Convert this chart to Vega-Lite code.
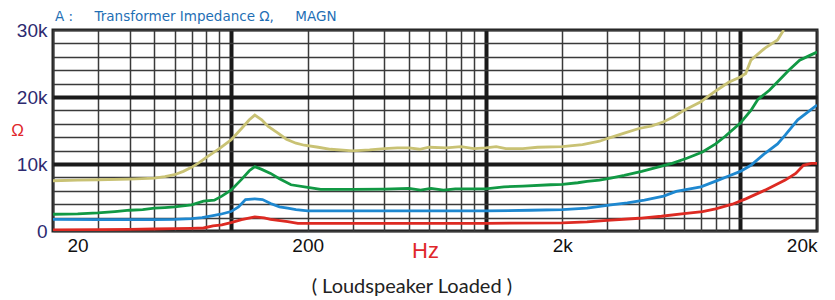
{
  "$schema": "https://vega.github.io/schema/vega-lite/v6.json",
  "width": 764,
  "height": 201,
  "autosize": "none",
  "padding": {"left": 53, "top": 30, "right": 18, "bottom": 69},
  "background": "white",
  "title": {"text": "A :\u00a0\u00a0\u00a0\u00a0 Transformer Impedance Ω,\u00a0\u00a0\u00a0\u00a0\u00a0MAGN", "anchor": "start", "frame": "group", "dx": 2, "offset": -16, "color": "#1f6fb5", "fontSize": 13.5, "font": "DejaVu Sans", "fontWeight": "normal", "baseline": "bottom"},
  "config": {"view": {"stroke": "#222222", "strokeWidth": 3}},
  "datasets": {
    "curves": [
      {"s":"yellow","f":20,"z":7500},{"s":"yellow","f":25,"z":7600},{"s":"yellow","f":30,"z":7650},{"s":"yellow","f":40,"z":7750},{"s":"yellow","f":50,"z":7900},{"s":"yellow","f":55,"z":8100},{"s":"yellow","f":60,"z":8400},{"s":"yellow","f":65,"z":8900},{"s":"yellow","f":70,"z":9500},{"s":"yellow","f":75,"z":10200},{"s":"yellow","f":80,"z":11000},{"s":"yellow","f":90,"z":12300},{"s":"yellow","f":100,"z":13600},{"s":"yellow","f":110,"z":15300},{"s":"yellow","f":118,"z":16600},{"s":"yellow","f":124,"z":17300},{"s":"yellow","f":132,"z":16600},{"s":"yellow","f":140,"z":15600},{"s":"yellow","f":153,"z":14600},{"s":"yellow","f":165,"z":13700},{"s":"yellow","f":180,"z":13100},{"s":"yellow","f":194,"z":12800},{"s":"yellow","f":220,"z":12500},{"s":"yellow","f":246,"z":12200},{"s":"yellow","f":300,"z":11950},{"s":"yellow","f":350,"z":12100},{"s":"yellow","f":400,"z":12300},{"s":"yellow","f":450,"z":12400},{"s":"yellow","f":500,"z":12400},{"s":"yellow","f":550,"z":12200},{"s":"yellow","f":600,"z":12500},{"s":"yellow","f":700,"z":12400},{"s":"yellow","f":800,"z":12600},{"s":"yellow","f":900,"z":12300},{"s":"yellow","f":1000,"z":12400},{"s":"yellow","f":1100,"z":12600},{"s":"yellow","f":1200,"z":12300},{"s":"yellow","f":1400,"z":12300},{"s":"yellow","f":1600,"z":12500},{"s":"yellow","f":2000,"z":12600},{"s":"yellow","f":2400,"z":12900},{"s":"yellow","f":2800,"z":13400},{"s":"yellow","f":3000,"z":13800},{"s":"yellow","f":3500,"z":14600},{"s":"yellow","f":4000,"z":15300},{"s":"yellow","f":4500,"z":15700},{"s":"yellow","f":5000,"z":16300},{"s":"yellow","f":5500,"z":17100},{"s":"yellow","f":6000,"z":18000},{"s":"yellow","f":7000,"z":19300},{"s":"yellow","f":8000,"z":20900},{"s":"yellow","f":9000,"z":22200},{"s":"yellow","f":10000,"z":23000},{"s":"yellow","f":10500,"z":23500},{"s":"yellow","f":11000,"z":25500},{"s":"yellow","f":12500,"z":27300},{"s":"yellow","f":14000,"z":28500},{"s":"yellow","f":14800,"z":30000},
      {"s":"green","f":20,"z":2500},{"s":"green","f":25,"z":2550},{"s":"green","f":30,"z":2700},{"s":"green","f":35,"z":2900},{"s":"green","f":40,"z":3100},{"s":"green","f":45,"z":3200},{"s":"green","f":50,"z":3400},{"s":"green","f":55,"z":3500},{"s":"green","f":60,"z":3600},{"s":"green","f":70,"z":3900},{"s":"green","f":78,"z":4450},{"s":"green","f":86,"z":4600},{"s":"green","f":92,"z":5200},{"s":"green","f":100,"z":6100},{"s":"green","f":110,"z":7700},{"s":"green","f":118,"z":9000},{"s":"green","f":124,"z":9600},{"s":"green","f":132,"z":9200},{"s":"green","f":143,"z":8600},{"s":"green","f":155,"z":7800},{"s":"green","f":172,"z":6900},{"s":"green","f":200,"z":6500},{"s":"green","f":225,"z":6200},{"s":"green","f":300,"z":6200},{"s":"green","f":400,"z":6250},{"s":"green","f":500,"z":6350},{"s":"green","f":555,"z":6100},{"s":"green","f":610,"z":6350},{"s":"green","f":683,"z":6100},{"s":"green","f":760,"z":6300},{"s":"green","f":1000,"z":6300},{"s":"green","f":1180,"z":6600},{"s":"green","f":1400,"z":6700},{"s":"green","f":1800,"z":6900},{"s":"green","f":2000,"z":6950},{"s":"green","f":2300,"z":7200},{"s":"green","f":2500,"z":7400},{"s":"green","f":2800,"z":7600},{"s":"green","f":3100,"z":7900},{"s":"green","f":3500,"z":8300},{"s":"green","f":4100,"z":8900},{"s":"green","f":4700,"z":9500},{"s":"green","f":5400,"z":10100},{"s":"green","f":6200,"z":10900},{"s":"green","f":7100,"z":11800},{"s":"green","f":8000,"z":13000},{"s":"green","f":8700,"z":14100},{"s":"green","f":10000,"z":16100},{"s":"green","f":11000,"z":18000},{"s":"green","f":11700,"z":19600},{"s":"green","f":13000,"z":21000},{"s":"green","f":14200,"z":22500},{"s":"green","f":15500,"z":24000},{"s":"green","f":17100,"z":25500},{"s":"green","f":18500,"z":26100},{"s":"green","f":20000,"z":26700},
      {"s":"blue","f":20,"z":1750},{"s":"blue","f":30,"z":1700},{"s":"blue","f":40,"z":1700},{"s":"blue","f":50,"z":1700},{"s":"blue","f":60,"z":1750},{"s":"blue","f":70,"z":1850},{"s":"blue","f":77,"z":2000},{"s":"blue","f":85,"z":2300},{"s":"blue","f":91,"z":2500},{"s":"blue","f":100,"z":2900},{"s":"blue","f":107,"z":3600},{"s":"blue","f":114,"z":4700},{"s":"blue","f":124,"z":4800},{"s":"blue","f":133,"z":4700},{"s":"blue","f":143,"z":4100},{"s":"blue","f":155,"z":3600},{"s":"blue","f":167,"z":3400},{"s":"blue","f":180,"z":3200},{"s":"blue","f":200,"z":3000},{"s":"blue","f":300,"z":3000},{"s":"blue","f":500,"z":3000},{"s":"blue","f":1000,"z":3000},{"s":"blue","f":1500,"z":3100},{"s":"blue","f":2000,"z":3200},{"s":"blue","f":2500,"z":3400},{"s":"blue","f":3100,"z":3900},{"s":"blue","f":3600,"z":4200},{"s":"blue","f":4200,"z":4600},{"s":"blue","f":5000,"z":5200},{"s":"blue","f":5600,"z":5900},{"s":"blue","f":7000,"z":6600},{"s":"blue","f":8200,"z":7600},{"s":"blue","f":9000,"z":8200},{"s":"blue","f":10000,"z":8900},{"s":"blue","f":11000,"z":9800},{"s":"blue","f":12500,"z":11600},{"s":"blue","f":14000,"z":13000},{"s":"blue","f":15000,"z":14300},{"s":"blue","f":16800,"z":16600},{"s":"blue","f":18500,"z":17800},{"s":"blue","f":20000,"z":18800},
      {"s":"red","f":20,"z":150},{"s":"red","f":30,"z":200},{"s":"red","f":40,"z":250},{"s":"red","f":50,"z":300},{"s":"red","f":60,"z":350},{"s":"red","f":70,"z":400},{"s":"red","f":78,"z":450},{"s":"red","f":85,"z":750},{"s":"red","f":92,"z":900},{"s":"red","f":100,"z":1250},{"s":"red","f":110,"z":1700},{"s":"red","f":124,"z":2100},{"s":"red","f":135,"z":1950},{"s":"red","f":143,"z":1750},{"s":"red","f":167,"z":1400},{"s":"red","f":183,"z":1150},{"s":"red","f":300,"z":1150},{"s":"red","f":1000,"z":1150},{"s":"red","f":2000,"z":1200},{"s":"red","f":2500,"z":1350},{"s":"red","f":3000,"z":1600},{"s":"red","f":4000,"z":1900},{"s":"red","f":4900,"z":2200},{"s":"red","f":6000,"z":2600},{"s":"red","f":7100,"z":2900},{"s":"red","f":8000,"z":3300},{"s":"red","f":9300,"z":4000},{"s":"red","f":10500,"z":4800},{"s":"red","f":12500,"z":6100},{"s":"red","f":15000,"z":7600},{"s":"red","f":16500,"z":8600},{"s":"red","f":17700,"z":9800},{"s":"red","f":19000,"z":10100},{"s":"red","f":20000,"z":10100}
    ]
  },
  "layer": [
    {
      "data": {"name": "curves"},
      "mark": {"type": "line", "strokeWidth": 2.8, "clip": true},
      "encoding": {
        "x": {
          "field": "f", "type": "quantitative",
          "scale": {"type": "log", "domain": [20, 20000], "nice": false},
          "axis": {
            "values": [20,30,40,50,60,70,80,90,100,200,300,400,500,600,700,800,900,1000,2000,3000,4000,5000,6000,7000,8000,9000,10000,20000],
            "grid": true,
            "gridColor": {"condition": {"test": "datum.value==100||datum.value==1000||datum.value==10000", "value": "#1a1a1a"}, "value": "#3a3a3a"},
            "gridWidth": {"condition": {"test": "datum.value==100||datum.value==1000||datum.value==10000", "value": 4}, "value": 1.5},
            "ticks": false, "domain": false,
            "labelExpr": "datum.value==20?'20':(datum.value==200?'200':(datum.value==2000?'2k':(datum.value==20000?'20k':'')))",
            "labelOverlap": false, "labelFlush": true,
            "labelOffset": {"condition": {"test": "datum.value==20", "value": 14}, "value": 0},
            "labelFontSize": 19, "labelColor": "#111111", "labelFont": "Liberation Sans", "labelPadding": 5,
            "title": "Hz", "titleColor": "#e0262a", "titleFontSize": 22, "titleFontWeight": "normal", "titleFont": "Liberation Sans",
            "titleX": 372, "titleY": 19, "titleBaseline": "middle", "titleAlign": "center"
          }
        },
        "y": {
          "field": "z", "type": "quantitative",
          "scale": {"domain": [0, 30000], "nice": false},
          "axis": {
            "values": [0,2000,4000,6000,8000,10000,12000,14000,16000,18000,20000,22000,24000,26000,28000,30000],
            "grid": true,
            "gridColor": {"condition": {"test": "datum.value==10000||datum.value==20000", "value": "#1a1a1a"}, "value": "#3a3a3a"},
            "gridWidth": {"condition": {"test": "datum.value==10000||datum.value==20000", "value": 4}, "value": 1.5},
            "ticks": false, "domain": false,
            "labelExpr": "datum.value==0?'0':(datum.value%10000==0?(datum.value/1000)+'k':'')",
            "labelOverlap": false,
            "labelFontSize": 19, "labelColor": "#2d2a70", "labelFont": "Liberation Sans", "labelPadding": 6,
            "title": "Ω", "titleAngle": 0, "titleX": -36, "titleY": 100, "titleAlign": "center", "titleBaseline": "middle",
            "titleColor": "#e0262a", "titleFontSize": 17, "titleFontWeight": "normal", "titleFont": "Liberation Sans"
          }
        },
        "color": {
          "field": "s", "type": "nominal",
          "scale": {"domain": ["yellow", "green", "blue", "red"], "range": ["#c9c274", "#119944", "#1e88d0", "#dd2a22"]},
          "legend": null
        }
      }
    },
    {
      "data": {"values": [{"label": "( Loudspeaker Loaded )"}]},
      "mark": {"type": "text", "fontSize": 20, "font": "Lato", "color": "#222222", "align": "center", "baseline": "middle"},
      "encoding": {
        "x": {
          "datum": 513, "type": "quantitative",
          "axis": {
            "values": [20,30,40,50,60,70,80,90,100,200,300,400,500,600,700,800,900,1000,2000,3000,4000,5000,6000,7000,8000,9000,10000,20000],
            "grid": true,
            "gridColor": {"condition": {"test": "datum.value==100||datum.value==1000||datum.value==10000", "value": "#1a1a1a"}, "value": "#3a3a3a"},
            "gridWidth": {"condition": {"test": "datum.value==100||datum.value==1000||datum.value==10000", "value": 4}, "value": 1.5},
            "ticks": false, "domain": false,
            "labelExpr": "datum.value==20?'20':(datum.value==200?'200':(datum.value==2000?'2k':(datum.value==20000?'20k':'')))",
            "labelOverlap": false, "labelFlush": true,
            "labelOffset": {"condition": {"test": "datum.value==20", "value": 14}, "value": 0},
            "labelFontSize": 19, "labelColor": "#111111", "labelFont": "Liberation Sans", "labelPadding": 5,
            "title": "Hz", "titleColor": "#e0262a", "titleFontSize": 22, "titleFontWeight": "normal", "titleFont": "Liberation Sans",
            "titleX": 372, "titleY": 19, "titleBaseline": "middle", "titleAlign": "center"
          }
        },
        "y": {
          "datum": -8360, "type": "quantitative",
          "axis": {
            "values": [0,2000,4000,6000,8000,10000,12000,14000,16000,18000,20000,22000,24000,26000,28000,30000],
            "grid": true,
            "gridColor": {"condition": {"test": "datum.value==10000||datum.value==20000", "value": "#1a1a1a"}, "value": "#3a3a3a"},
            "gridWidth": {"condition": {"test": "datum.value==10000||datum.value==20000", "value": 4}, "value": 1.5},
            "ticks": false, "domain": false,
            "labelExpr": "datum.value==0?'0':(datum.value%10000==0?(datum.value/1000)+'k':'')",
            "labelOverlap": false,
            "labelFontSize": 19, "labelColor": "#2d2a70", "labelFont": "Liberation Sans", "labelPadding": 6,
            "title": "Ω", "titleAngle": 0, "titleX": -36, "titleY": 100, "titleAlign": "center", "titleBaseline": "middle",
            "titleColor": "#e0262a", "titleFontSize": 17, "titleFontWeight": "normal", "titleFont": "Liberation Sans"
          }
        },
        "text": {"field": "label"}
      }
    }
  ]
}
